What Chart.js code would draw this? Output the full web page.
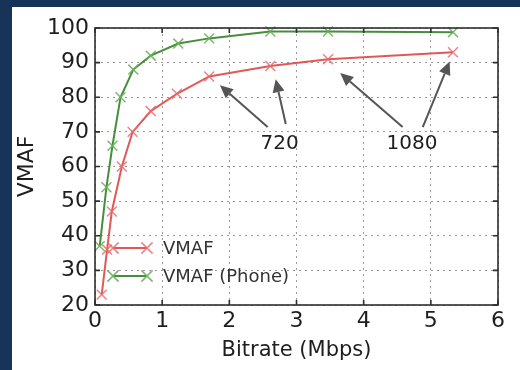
<!DOCTYPE html>
<html>
<head>
<meta charset="utf-8">
<script src="https://cdn.jsdelivr.net/npm/chart.js@4/dist/chart.umd.min.js"></script>
<style>
  html, body { margin: 0; padding: 0; }
  body { width: 520px; height: 370px; background: #173358; overflow: hidden; position: relative; }
  #panel { position: absolute; left: 12px; top: 7px; width: 508px; height: 363px; background: #ffffff; }
  #chart { display: block; }
</style>
</head>
<body>
<div id="panel"><canvas id="chart" width="508" height="363"></canvas></div>
<script>
// ---- data ----
const seriesNames = ['VMAF', 'VMAF (Phone)'];

const vmafBitrate = [0.10, 0.18, 0.25, 0.40, 0.56, 0.83, 1.22, 1.70, 2.61, 3.47, 5.33];
const vmafScore   = [23, 36, 47, 60, 70, 76, 81, 86, 89, 91, 93];

const phoneBitrate = [0.07, 0.17, 0.26, 0.38, 0.57, 0.83, 1.24, 1.70, 2.61, 3.47, 5.33];
const phoneScore   = [37, 54, 66, 80, 88, 92, 95.5, 97, 99, 99, 98.8];

const xTicks = [0, 1, 2, 3, 4, 5, 6];
const yTicks = [20, 30, 40, 50, 60, 70, 80, 90, 100];

// resolution callouts (data coords): label point, arrow tails -> heads
const calloutLabels = ['720', '1080'];
const calloutAt = [[2.75, 66.5], [4.72, 66.5]];
const calloutArrows = [
  [[2.57, 71.4], [1.86, 83.5]],
  [[2.84, 72.3], [2.69, 85.2]],
  [[4.58, 71.4], [3.65, 87.0]],
  [[4.88, 71.4], [5.28, 90.3]]
];

const RED = 'rgba(222, 70, 70, 0.9)';
const RED_MK = 'rgba(232, 110, 110, 0.85)';
const GREEN = 'rgba(60, 135, 50, 0.95)';
const GREEN_MK = 'rgba(110, 175, 95, 0.9)';
const FONT = 'DejaVu Sans';
const INK = '#1e1e1e';

const toPts = (xs, ys) => xs.map((x, i) => ({ x, y: ys[i] }));

// frame + inward ticks (classic matplotlib look)
const framePlugin = {
  id: 'frame',
  afterDatasetsDraw(chart) {
    const { ctx, chartArea: a, scales } = chart;
    ctx.save();
    ctx.strokeStyle = '#2e2e2e';
    ctx.lineWidth = 1.6;
    ctx.beginPath();
    xTicks.forEach(v => {
      const px = scales.x.getPixelForValue(v);
      ctx.moveTo(px, a.bottom); ctx.lineTo(px, a.bottom - 5);
      ctx.moveTo(px, a.top); ctx.lineTo(px, a.top + 5);
    });
    yTicks.forEach(v => {
      const py = scales.y.getPixelForValue(v);
      ctx.moveTo(a.left, py); ctx.lineTo(a.left + 5, py);
      ctx.moveTo(a.right, py); ctx.lineTo(a.right - 5, py);
    });
    ctx.stroke();
    ctx.strokeRect(a.left, a.top, a.right - a.left, a.bottom - a.top);
    ctx.restore();
  }
};

// arrows and the 720 / 1080 labels
const calloutPlugin = {
  id: 'callouts',
  afterDatasetsDraw(chart) {
    const { ctx, scales } = chart;
    const X = v => scales.x.getPixelForValue(v);
    const Y = v => scales.y.getPixelForValue(v);
    ctx.save();
    ctx.strokeStyle = '#555';
    ctx.fillStyle = '#555';
    ctx.lineWidth = 2;
    calloutArrows.forEach(([t, h]) => {
      const x0 = X(t[0]), y0 = Y(t[1]), x1 = X(h[0]), y1 = Y(h[1]);
      const ang = Math.atan2(y1 - y0, x1 - x0);
      const len = 13, w = 6;
      const bx = x1 - len * Math.cos(ang), by = y1 - len * Math.sin(ang);
      ctx.beginPath();
      ctx.moveTo(x0, y0); ctx.lineTo(bx, by);
      ctx.stroke();
      ctx.beginPath();
      ctx.moveTo(x1, y1);
      ctx.lineTo(bx + w * Math.sin(ang), by - w * Math.cos(ang));
      ctx.lineTo(bx - w * Math.sin(ang), by + w * Math.cos(ang));
      ctx.closePath();
      ctx.fill();
    });
    ctx.fillStyle = INK;
    ctx.font = '20px ' + FONT;
    ctx.textAlign = 'center';
    ctx.textBaseline = 'middle';
    calloutLabels.forEach((txt, i) => {
      ctx.fillText(txt, X(calloutAt[i][0]), Y(calloutAt[i][1]));
    });
    ctx.restore();
  }
};

// legend drawn inside the plot, lower left, no frame
const legendPlugin = {
  id: 'innerLegend',
  afterDatasetsDraw(chart) {
    const { ctx, chartArea: a } = chart;
    ctx.save();
    ctx.font = '18px ' + FONT;
    ctx.textBaseline = 'middle';
    ctx.textAlign = 'left';
    chart.data.datasets.forEach((ds, i) => {
      const y = a.bottom - 57 + i * 28;
      const x0 = a.left + 18, x1 = a.left + 52;
      ctx.strokeStyle = ds.borderColor;
      ctx.lineWidth = ds.borderWidth;
      ctx.beginPath(); ctx.moveTo(x0, y); ctx.lineTo(x1, y); ctx.stroke();
      ctx.strokeStyle = ds.pointBorderColor;
      ctx.lineWidth = ds.pointBorderWidth;
      [x0, x1].forEach(cx => {
        const r = ds.pointRadius * 0.8;
        ctx.beginPath();
        ctx.moveTo(cx - r, y - r); ctx.lineTo(cx + r, y + r);
        ctx.moveTo(cx - r, y + r); ctx.lineTo(cx + r, y - r);
        ctx.stroke();
      });
      ctx.fillStyle = '#333';
      ctx.fillText(ds.label, a.left + 68, y + 1);
    });
    ctx.restore();
  }
};

new Chart(document.getElementById('chart'), {
  type: 'line',
  data: {
    datasets: [
      {
        label: seriesNames[0],
        data: toPts(vmafBitrate, vmafScore),
        borderColor: RED,
        borderWidth: 2,
        pointStyle: 'crossRot',
        pointRadius: 7,
        pointBorderColor: RED_MK,
        pointBorderWidth: 1.5,
        tension: 0,
        fill: false,
        order: 2
      },
      {
        label: seriesNames[1],
        data: toPts(phoneBitrate, phoneScore),
        borderColor: GREEN,
        borderWidth: 2,
        pointStyle: 'crossRot',
        pointRadius: 7,
        pointBorderColor: GREEN_MK,
        pointBorderWidth: 1.5,
        tension: 0,
        fill: false,
        order: 1
      }
    ]
  },
  options: {
    responsive: false,
    animation: false,
    clip: false,
    layout: { padding: { left: 0, top: 21, right: 22, bottom: 7 } },
    plugins: { legend: { display: false }, tooltip: { enabled: false } },
    scales: {
      x: {
        type: 'linear',
        min: 0, max: 6,
        afterBuildTicks: s => { s.ticks = xTicks.map(v => ({ value: v })); },
        afterFit: s => { s.height = 58; },
        grid: { color: '#9a9a9a', lineWidth: 1, drawTicks: false },
        border: { display: false, dash: [2, 4] },
        ticks: { color: INK, font: { family: FONT, size: 22 }, padding: 3 },
        title: { display: true, text: 'Bitrate (Mbps)', color: INK, font: { family: FONT, size: 21 }, padding: { top: 0, bottom: 0 } }
      },
      y: {
        min: 20, max: 100,
        afterBuildTicks: s => { s.ticks = yTicks.map(v => ({ value: v })); },
        afterFit: s => { s.width = 83; },
        grid: { color: '#9a9a9a', lineWidth: 1, drawTicks: false },
        border: { display: false, dash: [2, 4] },
        ticks: { color: INK, font: { family: FONT, size: 22 }, padding: 6 },
        title: { display: true, text: 'VMAF', color: INK, font: { family: FONT, size: 22 }, padding: { top: 2, bottom: 0 } }
      }
    }
  },
  plugins: [framePlugin, legendPlugin, calloutPlugin]
});
</script>
</body>
</html>
